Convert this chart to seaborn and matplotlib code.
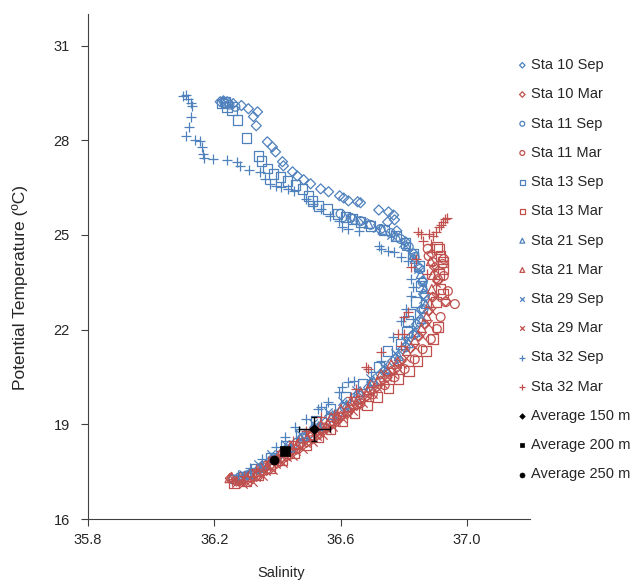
import matplotlib
matplotlib.use('Agg')
import matplotlib.pyplot as plt
import seaborn as sns

BLUE = '#4F81BD'
RED = '#C0504D'

# Station 10
sal_10_sep = [36.219, 36.229, 36.241, 36.260, 36.286, 36.308, 36.337, 36.324, 36.333, 36.368,
              36.384, 36.394, 36.416, 36.419, 36.448, 36.463, 36.483, 36.505, 36.537, 36.562,
              36.597, 36.610, 36.625, 36.654, 36.663, 36.721, 36.752, 36.768, 36.771, 36.749,
              36.778, 36.806, 36.832, 36.848, 36.860, 36.863, 36.857, 36.841, 36.822, 36.797,
              36.765, 36.727, 36.689, 36.648, 36.600, 36.552, 36.505, 36.457, 36.410, 36.362,
              36.314, 36.273]
tmp_10_sep = [29.22, 29.25, 29.22, 29.16, 29.10, 29.00, 28.90, 28.75, 28.46, 27.95,
              27.79, 27.63, 27.32, 27.19, 27.00, 26.87, 26.75, 26.62, 26.46, 26.37,
              26.24, 26.17, 26.08, 26.05, 26.02, 25.79, 25.73, 25.63, 25.48, 25.41,
              25.13, 24.78, 24.40, 23.98, 23.54, 23.13, 22.65, 22.17, 21.76, 21.38,
              21.00, 20.59, 20.17, 19.79, 19.41, 19.06, 18.71, 18.40, 18.05, 17.70,
              17.44, 17.29]
sal_10_mar = [36.889, 36.898, 36.908, 36.933, 36.892, 36.879, 36.867, 36.848, 36.822, 36.790,
              36.759, 36.727, 36.695, 36.663, 36.632, 36.600, 36.568, 36.537, 36.505, 36.473,
              36.441, 36.410, 36.378, 36.346, 36.314, 36.283, 36.251,
              36.778, 36.747, 36.715, 36.683, 36.651, 36.620, 36.588, 36.556, 36.525, 36.493,
              36.461, 36.429, 36.398, 36.366, 36.334, 36.302, 36.271]
tmp_10_mar = [24.40, 23.98, 23.54, 22.90, 23.03, 22.59, 22.17, 21.79, 21.41, 21.00,
              20.68, 20.37, 20.08, 19.79, 19.51, 19.25, 19.03, 18.81, 18.59, 18.37,
              18.14, 17.92, 17.70, 17.48, 17.32, 17.22, 17.29,
              20.79, 20.48, 20.18, 19.89, 19.60, 19.33, 19.09, 18.87, 18.65, 18.43,
              18.21, 17.98, 17.76, 17.54, 17.35, 17.22, 17.20]

# Station 11
sal_11_sep = [36.232, 36.248, 36.267, 36.600, 36.632, 36.663, 36.695, 36.727, 36.759, 36.790,
              36.816, 36.835, 36.851, 36.860, 36.867, 36.863, 36.851, 36.832, 36.806, 36.775,
              36.740, 36.702, 36.657, 36.613, 36.568, 36.524, 36.479, 36.435, 36.390, 36.346,
              36.302, 36.260]
tmp_11_sep = [29.19, 29.13, 29.06, 25.67, 25.54, 25.44, 25.32, 25.19, 25.06, 24.87,
              24.62, 24.30, 23.92, 23.51, 23.06, 22.65, 22.24, 21.83, 21.44, 21.06,
              20.68, 20.30, 19.92, 19.54, 19.22, 18.87, 18.56, 18.21, 17.89, 17.60,
              17.38, 17.25]
sal_11_mar = [36.876, 36.879, 36.892, 36.927, 36.924, 36.927, 36.908, 36.940, 36.962, 36.933,
              36.917, 36.905, 36.886, 36.860, 36.835, 36.803, 36.771, 36.740, 36.702, 36.663,
              36.625, 36.587, 36.549, 36.511, 36.473, 36.435, 36.397, 36.359, 36.321, 36.283]
tmp_11_mar = [24.56, 24.33, 24.14, 24.24, 24.08, 23.70, 23.60, 23.22, 22.81, 22.87,
              22.40, 22.02, 21.70, 21.38, 21.06, 20.75, 20.49, 20.24, 19.95, 19.67,
              19.41, 19.16, 18.90, 18.65, 18.40, 18.14, 17.89, 17.63, 17.41, 17.25]

# Station 13
sal_13_sep = [36.225, 36.235, 36.241, 36.257, 36.273, 36.302, 36.340, 36.349, 36.368, 36.387,
              36.410, 36.432, 36.457, 36.479, 36.498, 36.511, 36.530, 36.559, 36.590, 36.616,
              36.638, 36.663, 36.695, 36.737, 36.775, 36.806, 36.829, 36.848, 36.854, 36.838,
              36.822, 36.813, 36.810, 36.790, 36.749, 36.721, 36.670, 36.616, 36.568, 36.521,
              36.473, 36.425, 36.378, 36.330, 36.289]
tmp_13_sep = [29.16, 29.22, 29.06, 28.94, 28.65, 28.08, 27.51, 27.35, 27.10, 26.94,
              26.84, 26.71, 26.59, 26.46, 26.24, 26.08, 25.92, 25.83, 25.67, 25.57,
              25.51, 25.41, 25.29, 25.16, 24.97, 24.75, 24.40, 24.02, 23.38, 22.87,
              22.49, 22.27, 21.92, 21.54, 21.32, 20.81, 20.27, 19.86, 19.48, 19.10,
              18.71, 18.33, 17.95, 17.60, 17.35]
sal_13_mar = [36.911, 36.905, 36.917, 36.924, 36.924, 36.911, 36.917, 36.924, 36.902, 36.908,
              36.892, 36.870, 36.844, 36.816, 36.784, 36.752, 36.717, 36.683, 36.644, 36.606,
              36.568, 36.530, 36.492, 36.454, 36.416, 36.378, 36.340, 36.302, 36.263]
tmp_13_mar = [24.56, 24.62, 24.33, 24.14, 23.92, 23.76, 23.29, 23.13, 22.87, 22.08,
              21.70, 21.32, 21.00, 20.68, 20.43, 20.14, 19.86, 19.60, 19.35, 19.10,
              18.84, 18.59, 18.33, 18.08, 17.86, 17.60, 17.38, 17.19, 17.13]

# Station 21
sal_21_sep = [36.648, 36.689, 36.733, 36.778, 36.810, 36.835, 36.854, 36.867, 36.870, 36.857,
              36.838, 36.816, 36.784, 36.746, 36.705, 36.663, 36.619, 36.575, 36.530, 36.486,
              36.441, 36.397, 36.352, 36.308]
tmp_21_sep = [25.48, 25.35, 25.16, 24.94, 24.65, 24.24, 23.76, 23.29, 22.81, 22.33,
              21.92, 21.57, 21.16, 20.75, 20.37, 20.02, 19.63, 19.29, 18.94, 18.62,
              18.27, 17.95, 17.67, 17.41]
sal_21_mar = [36.886, 36.892, 36.889, 36.883, 36.873, 36.857, 36.835, 36.810, 36.781, 36.749,
              36.717, 36.686, 36.654, 36.622, 36.590, 36.559, 36.527, 36.495, 36.463, 36.432,
              36.400, 36.368, 36.337, 36.305, 36.273, 36.248,
              36.760, 36.728, 36.697, 36.665, 36.633, 36.601, 36.570, 36.538, 36.506, 36.474,
              36.443, 36.411, 36.379, 36.347, 36.316, 36.284, 36.255]
tmp_21_mar = [24.17, 23.73, 23.29, 22.84, 22.43, 22.05, 21.67, 21.32, 21.00, 20.68,
              20.37, 20.08, 19.79, 19.54, 19.29, 19.03, 18.81, 18.59, 18.37, 18.14,
              17.92, 17.70, 17.48, 17.32, 17.25, 17.29,
              20.91, 20.60, 20.30, 20.01, 19.74, 19.49, 19.23, 18.99, 18.77, 18.55,
              18.33, 18.10, 17.88, 17.66, 17.47, 17.36, 17.34]

# Station 29
sal_29_sep = [36.625, 36.670, 36.714, 36.759, 36.797, 36.825, 36.844, 36.857, 36.860, 36.851,
              36.829, 36.803, 36.771, 36.733, 36.692, 36.648, 36.603, 36.559, 36.514, 36.470,
              36.425, 36.381, 36.337, 36.292]
tmp_29_sep = [25.57, 25.41, 25.22, 25.00, 24.75, 24.37, 23.92, 23.44, 22.97, 22.49,
              22.02, 21.63, 21.25, 20.84, 20.46, 20.08, 19.73, 19.38, 19.03, 18.68,
              18.37, 18.05, 17.73, 17.44]
sal_29_mar = [36.895, 36.902, 36.898, 36.889, 36.876, 36.857, 36.835, 36.806, 36.778, 36.746,
              36.714, 36.683, 36.651, 36.619, 36.587, 36.556, 36.524, 36.492, 36.460, 36.429,
              36.397, 36.365, 36.333, 36.302, 36.270,
              36.796, 36.766, 36.734, 36.703, 36.671, 36.639, 36.607, 36.576, 36.544, 36.512,
              36.480, 36.449, 36.417, 36.385, 36.353, 36.322, 36.290]
tmp_29_mar = [23.92, 23.48, 23.03, 22.59, 22.17, 21.79, 21.44, 21.10, 20.81, 20.49,
              20.17, 19.89, 19.60, 19.35, 19.10, 18.84, 18.62, 18.40, 18.17, 17.95,
              17.73, 17.51, 17.32, 17.16, 17.13,
              20.90, 20.59, 20.27, 19.97, 19.69, 19.42, 19.17, 18.91, 18.67, 18.45,
              18.23, 18.00, 17.78, 17.56, 17.36, 17.18, 17.12]

# Station 32
sal_32_sep = [36.102, 36.111, 36.117, 36.127, 36.130, 36.127, 36.121, 36.111, 36.140, 36.156,
              36.162, 36.165, 36.168, 36.197, 36.241, 36.273, 36.283, 36.311, 36.346, 36.362,
              36.378, 36.394, 36.410, 36.432, 36.451, 36.489, 36.514, 36.537, 36.568, 36.594,
              36.606, 36.622, 36.657, 36.721, 36.727, 36.749, 36.768, 36.790, 36.813, 36.822,
              36.829, 36.822, 36.806, 36.790, 36.765, 36.727, 36.695, 36.641, 36.625, 36.606,
              36.594, 36.559, 36.537, 36.527, 36.489, 36.457, 36.425, 36.394, 36.352, 36.314,
              36.276]
tmp_32_sep = [29.41, 29.44, 29.32, 29.19, 29.10, 28.75, 28.43, 28.14, 28.02, 27.98,
              27.79, 27.57, 27.44, 27.41, 27.38, 27.32, 27.19, 27.06, 27.00, 26.78,
              26.62, 26.56, 26.52, 26.46, 26.40, 26.14, 25.98, 25.83, 25.60, 25.44,
              25.25, 25.19, 25.13, 24.65, 24.56, 24.49, 24.46, 24.30, 24.17, 23.60,
              23.35, 23.06, 22.65, 22.27, 21.76, 21.00, 20.65, 20.37, 20.33, 20.17,
              20.02, 19.70, 19.54, 19.48, 19.16, 18.90, 18.59, 18.27, 17.89, 17.63,
              17.41]
sal_32_mar = [36.930, 36.937, 36.924, 36.917, 36.911, 36.902, 36.892, 36.879, 36.854, 36.844,
              36.860, 36.886, 36.838, 36.822, 36.873, 36.813, 36.800, 36.800, 36.781, 36.790,
              36.727, 36.686, 36.679, 36.648, 36.632, 36.578, 36.537, 36.489, 36.448, 36.410,
              36.371, 36.333, 36.295, 36.257]
tmp_32_mar = [25.51, 25.54, 25.41, 25.32, 25.25, 25.10, 24.97, 25.03, 25.03, 25.10,
              24.81, 24.71, 24.24, 23.98, 23.76, 22.56, 22.40, 21.86, 21.86, 21.48,
              21.29, 20.75, 20.81, 20.11, 19.86, 19.32, 19.22, 18.78, 18.46, 18.14,
              17.83, 17.57, 17.35, 17.22]

# depth averages (only 150 m shows error bars)
avg_labels = ['Average 150 m', 'Average 200 m', 'Average 250 m']
avg_sal = [36.517, 36.425, 36.390]
avg_tmp = [18.84, 18.14, 17.86]
avg150_sal_err = 0.05
avg150_tmp_err = 0.38

sns.set_style('ticks')
plt.rcParams['font.family'] = ['Liberation Sans', 'DejaVu Sans']

fig = plt.figure(figsize=(6.4, 5.81), dpi=100)
ax = fig.add_axes([0.1375, 0.1067, 0.6906, 0.8692])

series = [
    ('Sta 10 Sep', sal_10_sep, tmp_10_sep, 'D', BLUE),
    ('Sta 10 Mar', sal_10_mar, tmp_10_mar, 'D', RED),
    ('Sta 11 Sep', sal_11_sep, tmp_11_sep, 'o', BLUE),
    ('Sta 11 Mar', sal_11_mar, tmp_11_mar, 'o', RED),
    ('Sta 13 Sep', sal_13_sep, tmp_13_sep, 's', BLUE),
    ('Sta 13 Mar', sal_13_mar, tmp_13_mar, 's', RED),
    ('Sta 21 Sep', sal_21_sep, tmp_21_sep, '^', BLUE),
    ('Sta 21 Mar', sal_21_mar, tmp_21_mar, '^', RED),
    ('Sta 29 Sep', sal_29_sep, tmp_29_sep, 'x', BLUE),
    ('Sta 29 Mar', sal_29_mar, tmp_29_mar, 'x', RED),
    ('Sta 32 Sep', sal_32_sep, tmp_32_sep, '+', BLUE),
    ('Sta 32 Mar', sal_32_mar, tmp_32_mar, '+', RED),
]
sizes = {'D': 26, 'o': 40, 's': 48, '^': 40, 'x': 36, '+': 50}

for name, s, t, m, c in series:
    if m in ('x', '+'):
        sns.scatterplot(x=s, y=t, marker=m, s=sizes[m], color=c, linewidth=0.9,
                        label=name, ax=ax)
    else:
        sns.scatterplot(x=s, y=t, marker=m, s=sizes[m], color=c, facecolor='none',
                        edgecolor=c, linewidth=0.9, label=name, ax=ax)

# error bars for the 150 m average
ax.errorbar(avg_sal[0], avg_tmp[0], xerr=avg150_sal_err, yerr=avg150_tmp_err,
            fmt='none', ecolor='black', elinewidth=1, capsize=2, capthick=1, zorder=3)

for lab, s, t, m, sz in zip(avg_labels, avg_sal, avg_tmp, ['D', 's', 'o'], [26, 42, 42]):
    sns.scatterplot(x=[s], y=[t], marker=m, s=sz, color='black', edgecolor='black',
                    linewidth=0.5, label=lab, ax=ax, zorder=4)

ax.set_xlim(35.8, 37.2)
ax.set_ylim(16, 32)
ax.set_xticks([35.8, 36.2, 36.6, 37.0])
ax.set_xticklabels(['35.8', '36.2', '36.6', '37.0'])
ax.set_yticks([16, 19, 22, 25, 28, 31])
ax.set_xlabel('Salinity', fontsize=10.5)
ax.set_ylabel('Potential Temperature (ºC)', fontsize=12.5)
ax.xaxis.set_label_coords(0.437, -0.093)
ax.yaxis.set_label_coords(-0.1357, 0.459)
ax.tick_params(axis='both', direction='out', length=5, width=0.8, labelsize=10.5,
               color='#404040')
ax.tick_params(axis='y', pad=8)
ax.tick_params(axis='x', pad=5)
sns.despine(ax=ax)
for sp in ['left', 'bottom']:
    ax.spines[sp].set_color('#404040')
    ax.spines[sp].set_linewidth(0.8)

ax.legend(loc='upper left', bbox_to_anchor=(0.807, 0.900), bbox_transform=fig.transFigure,
          frameon=False, fontsize=10.5, handlelength=0.8, handletextpad=0.2,
          labelspacing=1.045, borderpad=0, borderaxespad=0, markerscale=0.55)

fig.savefig('out.png', dpi=100)
